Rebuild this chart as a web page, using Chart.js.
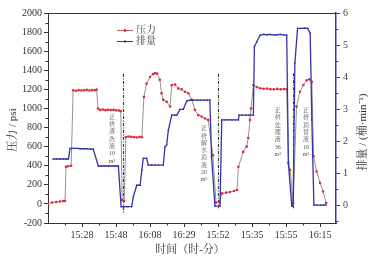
<!DOCTYPE html>
<html>
<head>
<meta charset="utf-8">
<script src="https://cdn.jsdelivr.net/npm/chart.js@4"></script>
<style>
  body { margin: 0; background: #fff; }
  canvas { display: block; }
</style>
</head>
<body>
<canvas id="myChart" width="376" height="260"></canvas>
<script>
// x values are in "tick units": label i sits at 10*(i+1)
const tickLabels = ["15:28", "15:48", "16:08", "16:29", "15:52", "15:35", "15:55", "16:15"];

const pressureTime = [
  0, 1.2, 2.4, 3.5, 4.4, 5.0,
  5.3, 5.9, 6.8,
  7.4, 8.2, 9.0, 9.8, 10.6, 11.4, 12.2, 13.0, 13.8, 14.3,
  14.7, 15.3, 16.1, 16.9, 17.7, 18.5, 19.3, 20.1, 20.9, 21.4,
  21.8, 22.4,
  22.9, 23.7, 24.5, 25.3, 26.1, 26.9, 27.6,
  28.2, 29.0, 30.0, 30.9, 31.5, 32.1, 32.9, 33.4, 33.9, 34.9, 35.9,
  36.4, 37.4, 38.3, 39.3, 40.3, 41.3, 42.3, 43.2, 44.2, 45.2, 46.2, 47.1,
  48.5, 49.4, 50.3,
  51.2, 52.4, 53.5, 54.7, 55.6,
  56.0, 57.4, 58.4, 58.9, 59.4, 59.7,
  60.4, 61.4, 62.4, 63.4, 64.4, 65.4, 66.4, 67.4, 68.4, 69.4, 70.2,
  70.7, 71.2, 72.1,
  73.1, 74.1, 75.1, 76.1, 76.9, 77.6,
  78.1, 79.0, 80.0, 80.9, 81.8
];
const pressure = [
  5, 15, 20, 25, 30, 30,
  390, 395, 400,
  1190, 1185, 1192, 1188, 1190, 1195, 1188, 1192, 1190, 1198,
  1000, 985, 988, 982, 986, 984, 985, 980, 978, 970,
  40, 30,
  700, 706, 702, 700, 696, 702, 698,
  1120, 1260, 1330, 1360, 1370, 1365, 1300, 1160, 1090, 1070, 1020,
  1245, 1250, 1210, 1200, 1175, 1160, 1090, 985, 930, 915, 895, 880,
  510, 15, 20,
  110, 118, 125, 135, 145,
  390, 545, 600, 690, 880, 1000,
  1245, 1225, 1212, 1206, 1208, 1202, 1200, 1205, 1200, 1204, 1200,
  430, 355, 10,
  1020, 1175, 1245, 1295, 1305, 1280,
  500, 340, 220, 130, 10
];

const rateTime = [
  1.5, 2.5, 3.5, 4.5, 5.5, 6.0,
  6.5, 7.5, 8.5, 9.5, 10.5, 11.5, 12.5, 13.3,
  14.8, 15.8, 16.8, 17.8, 18.8, 19.8, 20.7,
  21.5, 22.5, 23.5, 24.6,
  25.1, 26.1, 27.1, 27.6, 28.0, 29.0, 29.5, 30.5, 31.5, 32.5, 33.9,
  34.4, 34.9, 35.4, 36.4, 37.2, 37.9, 38.8, 39.8, 40.8, 41.8, 42.8, 43.8, 44.8, 45.8, 46.8, 47.6,
  48.1, 49.1, 50.6,
  51.1, 52.1, 53.1, 54.1, 55.1, 56.0,
  56.2, 57.2, 58.2, 59.2, 60.4,
  60.7, 61.4, 62.4, 63.4, 64.4, 65.4, 66.4, 67.4, 68.4, 69.4, 70.2,
  70.7, 71.7, 72.1,
  72.6, 73.4, 74.4, 75.4, 76.4, 77.1, 77.6, 78.2, 79.2, 80.2, 81.0, 81.8
];
const rate = [
  1.44, 1.44, 1.44, 1.44, 1.44, 1.44,
  1.77, 1.77, 1.77, 1.76, 1.76, 1.76, 1.75, 1.75,
  1.22, 1.22, 1.22, 1.22, 1.22, 1.22, 1.22,
  -0.05, -0.05, -0.05, -0.05,
  0.26, 0.62, 0.62, 1.09, 1.46, 1.46, 1.25, 1.25, 1.25, 1.25, 1.25,
  1.82, 1.88, 2.34, 2.81, 2.81, 2.81, 2.99, 2.99, 3.25, 3.28, 3.28, 3.28, 3.28, 3.28, 3.28, 3.28,
  1.51, -0.03, -0.03,
  2.66, 2.66, 2.66, 2.66, 2.66, 2.66,
  2.81, 2.81, 2.81, 2.81, 2.81,
  4.95, 5.1, 5.31, 5.33, 5.32, 5.33, 5.31, 5.32, 5.33, 5.31, 5.31,
  1.3, -0.03, -0.03,
  4.43, 5.52, 5.52, 5.53, 5.52, 5.37, 2.66, 0, 0, 0, 0, 0
];

// stage markers: x position, top/bottom (psi)
const stageX = [22.2, 50.0, 72.1];
const stageTop = [1360, 1360, 1370];
const stageBottom = [-95, -45, -45];

// vertical notes: x, top (psi), characters
const noteX = [18.8, 45.9, 67.6, 75.9];
const noteTop = [940, 820, 1010, 1010];
const noteText = [
  ["正", "挤", "清", "洗", "液", "10", "m³"],
  ["正", "挤", "解", "水", "顶", "液", "20", "m³"],
  ["正", "挤", "处", "理", "液", "36", "m³"],
  ["正", "挤", "顶", "替", "液", "16", "m³"]
];

const serif = '"Liberation Serif", "Times New Roman", "Noto Serif CJK SC", "Noto Sans CJK SC", serif';
const blue = "#3434a8";
const red = "#e3283a";

const extras = {
  id: "extras",
  beforeDatasetsDraw(chart) {
    const { ctx, scales: { x, y } } = chart;
    ctx.save();
    // dash-dot stage lines
    ctx.strokeStyle = "#333";
    ctx.lineWidth = 1.1;
    ctx.setLineDash([3, 1.5, 1, 1.5]);
    stageX.forEach((v, i) => {
      const px = Math.round(x.getPixelForValue(v)) + 0.5;
      ctx.beginPath();
      ctx.moveTo(px, y.getPixelForValue(stageTop[i]));
      ctx.lineTo(px, y.getPixelForValue(stageBottom[i]));
      ctx.stroke();
    });
    ctx.setLineDash([]);
    // vertical notes
    ctx.fillStyle = "#555";
    ctx.font = "6px " + serif;
    ctx.textAlign = "center";
    ctx.textBaseline = "top";
    noteX.forEach((v, i) => {
      const px = x.getPixelForValue(v);
      let py = y.getPixelForValue(noteTop[i]);
      noteText[i].forEach((ch) => {
        ctx.fillText(ch, px, py);
        py += 7.3;
      });
    });
    ctx.restore();
  },
  afterDraw(chart) {
    const { ctx, chartArea: a, scales: { x, y, y1 } } = chart;
    ctx.save();
    // top frame
    ctx.strokeStyle = "#333";
    ctx.lineWidth = 1;
    ctx.beginPath();
    ctx.moveTo(a.left, a.top + 0.5);
    ctx.lineTo(a.right, a.top + 0.5);
    ctx.stroke();
    // minor ticks
    ctx.beginPath();
    for (let v = -100; v < 2000; v += 200) {
      const py = Math.round(y.getPixelForValue(v)) + 0.5;
      ctx.moveTo(a.left, py);
      ctx.lineTo(a.left - 2.5, py);
    }
    for (let v = 5; v < 85; v += 10) {
      const px = Math.round(x.getPixelForValue(v)) + 0.5;
      ctx.moveTo(px, a.bottom);
      ctx.lineTo(px, a.bottom + 2.5);
    }
    ctx.stroke();
    ctx.strokeStyle = blue;
    ctx.beginPath();
    for (let v = -0.5; v < 6; v += 1) {
      const py = Math.round(y1.getPixelForValue(v)) + 0.5;
      ctx.moveTo(a.right, py);
      ctx.lineTo(a.right + 2.5, py);
    }
    ctx.stroke();

    // legend
    ctx.lineWidth = 1;
    ctx.strokeStyle = "#c85a64";
    ctx.beginPath(); ctx.moveTo(117, 30.5); ctx.lineTo(133, 30.5); ctx.stroke();
    ctx.fillStyle = red;
    ctx.beginPath(); ctx.arc(125, 30.5, 1.4, 0, Math.PI * 2); ctx.fill();
    ctx.strokeStyle = blue;
    ctx.beginPath(); ctx.moveTo(117, 41.5); ctx.lineTo(133, 41.5); ctx.stroke();
    ctx.fillStyle = blue;
    ctx.fillRect(124, 40.5, 2, 2);
    ctx.fillStyle = "#444";
    ctx.font = "10px " + serif;
    ctx.textAlign = "left";
    ctx.textBaseline = "middle";
    ctx.fillText("压力", 136, 30.5);
    ctx.fillText("排量", 136, 41.5);

    // axis titles
    ctx.font = "11px " + serif;
    ctx.fillStyle = "#333";
    ctx.textAlign = "center";
    ctx.fillText("时间（时-分）", 190, 250);
    ctx.save();
    ctx.translate(13, 130);
    ctx.rotate(-Math.PI / 2);
    ctx.fillText("压力 / psi", 0, 0);
    ctx.restore();
    ctx.save();
    ctx.translate(363, 132);
    ctx.rotate(-Math.PI / 2);
    ctx.fillText("排量 / (桶·min⁻¹)", 0, 0);
    ctx.restore();
    ctx.restore();
  }
};

const ctx = document.getElementById("myChart");

const myChart = new Chart(ctx, {
  type: "line",
  plugins: [extras],
  data: {
    datasets: [
      {
        label: "排量",
        data: rateTime.map((t, i) => ({ x: t, y: rate[i] })),
        yAxisID: "y1",
        borderColor: blue,
        borderWidth: 1.3,
        pointStyle: "rect",
        pointRadius: 1,
        pointBackgroundColor: blue,
        pointBorderWidth: 0,
        tension: 0,
      },
      {
        label: "压力",
        data: pressureTime.map((t, i) => ({ x: t, y: pressure[i] })),
        yAxisID: "y",
        borderColor: "#777",
        borderWidth: 0.8,
        pointRadius: 1.3,
        pointBackgroundColor: red,
        pointBorderWidth: 0,
        tension: 0,
      },
    ],
  },
  options: {
    responsive: false,
    animation: false,
    devicePixelRatio: 1,
    layout: { padding: { top: 13, left: 0, right: 0, bottom: 0 } },
    plugins: {
      legend: { display: false },
      tooltip: { enabled: false },
    },
    scales: {
      x: {
        type: "linear",
        position: "bottom",
        min: 0,
        max: 84.7,
        afterBuildTicks: (s) => { s.ticks = tickLabels.map((_, i) => ({ value: (i + 1) * 10 })); },
        afterFit: (s) => { s.height = 37; },
        grid: { drawOnChartArea: false, tickLength: 4, color: "#333" },
        border: { color: "#333", width: 1 },
        ticks: {
          autoSkip: false,
          maxRotation: 0,
          padding: 2,
          color: "#333",
          font: { family: serif, size: 10 },
          callback: (v) => tickLabels[Math.round(v / 10) - 1],
        },
      },
      y: {
        position: "left",
        min: -200,
        max: 2000,
        afterFit: (s) => { s.width = 48; },
        grid: { drawOnChartArea: false, tickLength: 4, color: "#333" },
        border: { color: "#333", width: 1 },
        ticks: {
          stepSize: 200,
          padding: 2,
          color: "#333",
          font: { family: serif, size: 10 },
          callback: (v) => String(v),
        },
      },
      y1: {
        position: "right",
        min: -0.56,
        max: 6,
        afterBuildTicks: (s) => { s.ticks = [0, 1, 2, 3, 4, 5, 6].map((v) => ({ value: v })); },
        afterFit: (s) => { s.width = 40; },
        grid: { drawOnChartArea: false, tickLength: 4, color: blue },
        border: { color: blue, width: 1.5 },
        ticks: {
          padding: 3,
          color: "#444",
          font: { family: serif, size: 10 },
          callback: (v) => String(v),
        },
      },
    },
  },
});
</script>
</body>
</html>
